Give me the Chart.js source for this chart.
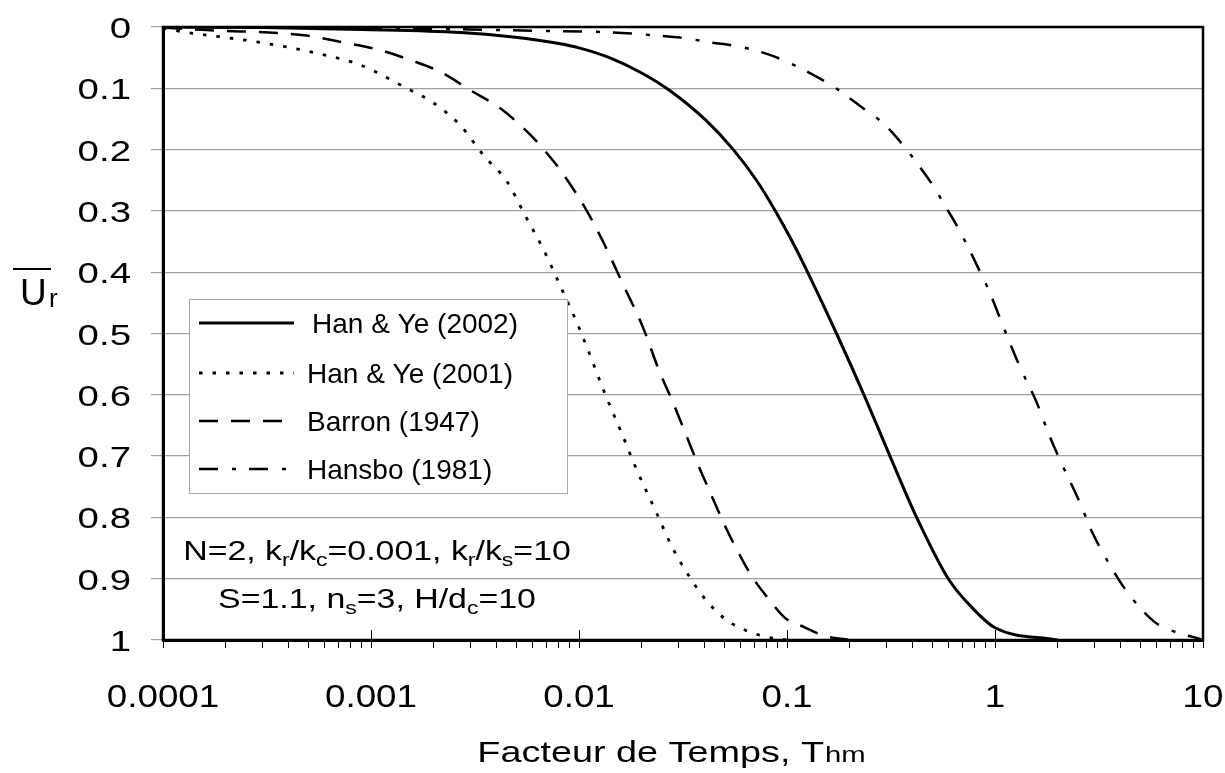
<!DOCTYPE html>
<html>
<head>
<meta charset="utf-8">
<script src="https://cdn.jsdelivr.net/npm/chart.js@4"></script>
<style>
  html, body { margin: 0; padding: 0; background: #fff; }
  #wrap { width: 1225px; height: 773px; }
</style>
</head>
<body>
<div id="wrap"><canvas id="chart" width="1225" height="773"></canvas></div>
<script>
// values
const xDecades = [0.0001, 0.001, 0.01, 0.1, 1, 10];
const xDecadeLabels = ['0.0001', '0.001', '0.01', '0.1', '1', '10'];
const yTickValues = [0, 0.1, 0.2, 0.3, 0.4, 0.5, 0.6, 0.7, 0.8, 0.9, 1];
const yTickLabels = ['0', '0.1', '0.2', '0.3', '0.4', '0.5', '0.6', '0.7', '0.8', '0.9', '1'];

const hanYe2002T = [0.0001, 0.0003, 0.0009, 0.0027, 0.0047, 0.008, 0.01, 0.014, 0.02, 0.0274, 0.0407, 0.0552, 0.0713, 0.0879, 0.106, 0.1256, 0.173, 0.2344, 0.3126, 0.42, 0.596, 0.79, 1.0, 2.0];
const hanYe2002U = [0, 0.001, 0.004, 0.009, 0.016, 0.027, 0.034, 0.05, 0.075, 0.104, 0.152, 0.2, 0.25, 0.3, 0.35, 0.4, 0.5, 0.6, 0.7, 0.8, 0.9, 0.95, 0.98, 1.0];

const hanYe2001T = [0.0001, 0.000125, 0.00022, 0.0004, 0.00057, 0.00089, 0.00143, 0.002, 0.00268, 0.00347, 0.0045, 0.0056, 0.0067, 0.0081, 0.0101, 0.0134, 0.0161, 0.0187, 0.0237, 0.028, 0.034, 0.0408, 0.051, 0.063, 0.082, 0.1];
const hanYe2001U = [0.002, 0.008, 0.019, 0.033, 0.044, 0.062, 0.097, 0.124, 0.16, 0.209, 0.252, 0.312, 0.361, 0.421, 0.494, 0.6, 0.664, 0.718, 0.794, 0.848, 0.897, 0.935, 0.967, 0.984, 0.996, 1.0];

const barronT = [0.0001, 0.000163, 0.00049, 0.00073, 0.0011, 0.00155, 0.00215, 0.003, 0.0042, 0.0056, 0.0069, 0.0084, 0.0109, 0.013, 0.0163, 0.0203, 0.0243, 0.0281, 0.0326, 0.0378, 0.0437, 0.0507, 0.0598, 0.068, 0.0803, 0.0986, 0.121, 0.15, 0.2];
const barronU = [0.001, 0.005, 0.014, 0.025, 0.0375, 0.054, 0.073, 0.103, 0.133, 0.17, 0.203, 0.24, 0.3, 0.349, 0.42, 0.49, 0.561, 0.61, 0.664, 0.718, 0.767, 0.816, 0.864, 0.897, 0.93, 0.965, 0.979, 0.993, 1.0];

const hansboT = [0.0001, 0.001, 0.003, 0.006, 0.0143, 0.022, 0.032, 0.0425, 0.059, 0.082, 0.111, 0.151, 0.172, 0.233, 0.29, 0.346, 0.43, 0.513, 0.585, 0.638, 0.76, 0.83, 0.924, 1.13, 1.32, 1.57, 1.87, 2.13, 2.53, 2.95, 3.6, 4.37, 5.82, 7.24, 9.4, 10];
const hansboU = [0, 0.002, 0.004, 0.006, 0.0087, 0.013, 0.018, 0.025, 0.032, 0.045, 0.064, 0.088, 0.1, 0.133, 0.157, 0.185, 0.226, 0.263, 0.296, 0.317, 0.366, 0.393, 0.426, 0.5, 0.555, 0.609, 0.675, 0.718, 0.772, 0.826, 0.88, 0.924, 0.97, 0.986, 0.997, 1.0];

const FONT = '"Liberation Sans", Arial, Helvetica, sans-serif';

// minor + major tick positions on the log axis
const xTickValues = [];
xDecades.forEach((d, i) => {
    if (i === xDecades.length - 1) { xTickValues.push(d); return; }
    for (let m = 1; m < 10; m++) xTickValues.push(+(d * m).toPrecision(3));
});

function pts(xs, ys) {
    return xs.map((x, i) => ({ x, y: ys[i] }));
}

const datasets = [
    { label: 'Hansbo (1981)', data: pts(hansboT, hansboU), borderDash: [19, 14, 4, 13], borderWidth: 2.5 },
    { label: 'Barron (1947)', data: pts(barronT, barronU), borderDash: [19, 13], borderWidth: 2.5 },
    { label: 'Han & Ye (2001)', data: pts(hanYe2001T, hanYe2001U), borderDash: [3.5, 10], borderWidth: 2.8 },
    { label: 'Han & Ye (2002)', data: pts(hanYe2002T, hanYe2002U), borderDash: [], borderWidth: 3 },
].map((ds) => Object.assign(ds, {
    borderColor: '#000',
    backgroundColor: '#000',
    pointRadius: 0,
    showLine: true,
    fill: false,
    cubicInterpolationMode: 'monotone',
    borderCapStyle: 'butt',
}));

const legendOrder = ['Han & Ye (2002)', 'Han & Ye (2001)', 'Barron (1947)', 'Hansbo (1981)'];

// text stretched horizontally like the scanned figure
function wideText(ctx, text, x, y, size, sx, align) {
    ctx.save();
    ctx.font = size + 'px ' + FONT;
    ctx.translate(x, y);
    ctx.scale(sx, 1);
    ctx.textAlign = align || 'left';
    ctx.fillText(text, 0, 0);
    ctx.restore();
}

// normal/subscript pieces, centred on cx
function richText(ctx, parts, cx, baseline, size, sx) {
    const subSize = Math.round(size * 0.68);
    let total = 0;
    parts.forEach((p) => {
        ctx.font = (p.sub ? subSize : size) + 'px ' + FONT;
        p.w = ctx.measureText(p.t).width * sx;
        total += p.w;
    });
    let x = cx - total / 2;
    parts.forEach((p) => {
        wideText(ctx, p.t, x, baseline + (p.sub ? 6 : 0), p.sub ? subSize : size, sx, 'left');
        x += p.w;
    });
}

const decorations = {
    id: 'decorations',
    afterDatasetsDraw(chart) {
        const ctx = chart.ctx;
        const area = chart.chartArea;
        const xs = chart.scales.x;
        const ys = chart.scales.y;
        ctx.save();

        // frame
        ctx.strokeStyle = '#000';
        ctx.lineWidth = 2.5;
        ctx.strokeRect(area.left, area.top, area.right - area.left, area.bottom - area.top);

        // short decade ticks poking up into the plot
        ctx.lineWidth = 1;
        xDecades.forEach((d) => {
            const px = Math.round(xs.getPixelForValue(d)) + 0.5;
            ctx.beginPath();
            ctx.moveTo(px, area.bottom);
            ctx.lineTo(px, area.bottom - 10);
            ctx.stroke();
        });

        // tick labels
        ctx.fillStyle = '#000';
        ctx.textBaseline = 'alphabetic';
        yTickValues.forEach((v, i) => {
            wideText(ctx, yTickLabels[i], 131, ys.getPixelForValue(v) + 11, 30, 1.28, 'right');
        });
        xDecades.forEach((v, i) => {
            wideText(ctx, xDecadeLabels[i], xs.getPixelForValue(v), 707, 32, 1.15, 'center');
        });

        // legend box
        const box = { l: 189, t: 299, r: 567, b: 493 };
        ctx.fillStyle = '#fff';
        ctx.fillRect(box.l, box.t, box.r - box.l, box.b - box.t);
        ctx.strokeStyle = '#a8a8a8';
        ctx.lineWidth = 1;
        ctx.strokeRect(box.l + 0.5, box.t + 0.5, box.r - box.l, box.b - box.t);
        const rows = [323, 373, 421, 469];
        legendOrder.forEach((name, i) => {
            const ds = chart.data.datasets.find((d) => d.label === name);
            ctx.strokeStyle = '#000';
            ctx.lineWidth = ds.borderWidth;
            ctx.setLineDash(ds.borderDash);
            ctx.beginPath();
            ctx.moveTo(199, rows[i]);
            ctx.lineTo(294, rows[i]);
            ctx.stroke();
            ctx.setLineDash([]);
            ctx.fillStyle = '#000';
            wideText(ctx, name, i === 0 ? 312 : 307, rows[i] + 10, 28, 1, 'left');
        });

        // parameter note
        ctx.fillStyle = '#000';
        richText(ctx, [
            { t: 'N=2, k' }, { t: 'r', sub: true }, { t: '/k' }, { t: 'c', sub: true },
            { t: '=0.001, k' }, { t: 'r', sub: true }, { t: '/k' }, { t: 's', sub: true }, { t: '=10' },
        ], 377, 560, 28, 1.21);
        richText(ctx, [
            { t: 'S=1.1, n' }, { t: 's', sub: true }, { t: '=3, H/d' }, { t: 'c', sub: true }, { t: '=10' },
        ], 377, 608, 28, 1.21);

        // x title
        ctx.font = '30px ' + FONT;
        const main = 'Facteur de Temps, T';
        const w1 = ctx.measureText(main).width * 1.26;
        ctx.font = '22px ' + FONT;
        const w2 = ctx.measureText('hm').width * 1.33;
        const tx = 671 - (w1 + w2) / 2;
        wideText(ctx, main, tx, 762, 30, 1.26, 'left');
        wideText(ctx, 'hm', tx + w1 + 1, 762, 22, 1.33, 'left');

        // y title: U with overbar and r
        wideText(ctx, 'U', 20, 305, 37, 1, 'left');
        wideText(ctx, 'r', 49, 307, 26, 1, 'left');
        ctx.strokeStyle = '#000';
        ctx.lineWidth = 2;
        ctx.beginPath();
        ctx.moveTo(13, 269);
        ctx.lineTo(51, 269);
        ctx.stroke();

        ctx.restore();
    },
};

new Chart(document.getElementById('chart'), {
    type: 'scatter',
    data: { datasets },
    options: {
        responsive: false,
        animation: false,
        layout: { padding: { top: 27, right: 22, left: 0, bottom: 0 } },
        plugins: {
            legend: { display: false },
            tooltip: { enabled: false },
        },
        scales: {
            x: {
                type: 'logarithmic',
                min: 0.0001,
                max: 10,
                afterBuildTicks: (scale) => {
                    scale.ticks = xTickValues.map((v) => ({ value: v }));
                },
                afterFit: (scale) => {
                    scale.height = 133;
                    scale.paddingLeft = 0;
                    scale.paddingRight = 0;
                },
                ticks: { display: false, autoSkip: false },
                grid: { drawOnChartArea: false, drawTicks: true, tickLength: 8, color: '#000', lineWidth: 1 },
                border: { display: true, color: '#000', width: 3 },
            },
            y: {
                type: 'linear',
                reverse: true,
                min: 0,
                max: 1,
                afterBuildTicks: (scale) => {
                    scale.ticks = yTickValues.map((v) => ({ value: v }));
                },
                afterFit: (scale) => {
                    scale.width = 163;
                    scale.paddingTop = 0;
                    scale.paddingBottom = 0;
                },
                ticks: { display: false },
                grid: { color: '#a0a0a0', lineWidth: 1.2, tickLength: 12 },
                border: { display: true, color: '#000', width: 3 },
            },
        },
    },
    plugins: [decorations],
});
</script>
</body>
</html>
